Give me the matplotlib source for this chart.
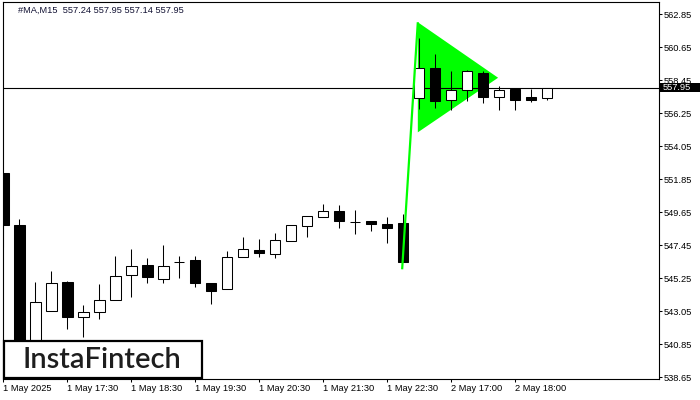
import matplotlib
matplotlib.use("Agg")
import matplotlib.pyplot as plt
from matplotlib.patches import Rectangle, Polygon

# ---- data ----
title_text = "#MA,M15  557.24 557.95 557.14 557.95"
opens = [552.27, 548.78, 540.50, 543.03, 544.98, 542.63, 542.96, 543.76, 545.43, 546.10,
         545.20, 546.32, 546.43, 544.90, 544.50, 546.67, 547.12, 546.87, 547.70, 548.70,
         549.30, 549.70, 549.00, 549.05, 548.85, 548.94, 557.23, 559.25, 557.10, 557.76,
         558.92, 557.34, 557.85, 557.30, 557.24]
highs = [552.27, 549.18, 545.00, 545.72, 545.05, 543.43, 544.85, 546.72, 547.18, 546.56,
         547.45, 546.72, 546.72, 544.90, 547.05, 548.00, 547.85, 548.25, 548.76, 549.36,
         550.18, 550.10, 549.78, 549.05, 549.34, 549.52, 561.23, 560.18, 559.05, 559.12,
         559.03, 558.05, 557.92, 557.83, 557.95]
lows = [547.34, 539.90, 539.80, 543.03, 541.83, 541.30, 542.54, 543.76, 544.00, 544.94,
        544.94, 545.27, 544.67, 543.54, 544.50, 546.67, 546.67, 546.60, 547.70, 548.00,
        549.30, 548.60, 548.20, 548.38, 547.60, 546.34, 556.52, 556.58, 556.43, 557.05,
        556.94, 556.47, 556.47, 557.00, 557.14]
closes = [548.78, 540.20, 543.63, 544.90, 542.63, 542.96, 543.78, 545.36, 546.03, 545.34,
          546.03, 546.32, 544.94, 544.40, 546.67, 547.16, 546.90, 547.78, 548.76, 549.36,
          549.70, 549.07, 548.97, 548.85, 548.60, 546.34, 559.27, 557.07, 557.76, 559.03,
          557.34, 557.76, 557.14, 557.14, 557.95]
xtick_pos = [0, 4, 8, 12, 16, 20, 24, 28, 32]
xtick_labels = ["1 May 2025", "1 May 17:30", "1 May 18:30", "1 May 19:30", "1 May 20:30",
                "1 May 21:30", "1 May 22:30", "2 May 17:00", "2 May 18:00"]
ytick_vals = [538.65, 540.85, 543.05, 545.25, 547.45, 549.65, 551.85, 554.05, 556.25,
              558.45, 560.65, 562.85]
pole_x = [24.94, 25.92]
pole_y = [545.83, 562.30]
pennant_x = [25.92, 25.92, 30.94]
pennant_y = [562.30, 554.96, 558.60]
logo_text = "InstaFintech"

# ---- figure ----
W, H = 700, 400
fig = plt.figure(figsize=(7, 4), dpi=100)
fig.patch.set_facecolor("white")
FONT = "Liberation Sans"
FS = 6.7

L, R, T, B = 3.0, 659.3, 1.7, 379.3
ax = fig.add_axes([L / W, 1 - B / H, (R - L) / W, (B - T) / H])
ax.set_facecolor("white")
ax.set_xlim(-0.019, 41.02)
ax.set_ylim(538.497, 563.67)

green = "#00ff00"
ax.add_patch(Polygon(list(zip(pennant_x, pennant_y)), closed=True, facecolor=green,
                     edgecolor="none", zorder=1))
ax.axhline(closes[-1], color="black", lw=0.8, zorder=2)

bw = 0.66
lw = 0.75
for i, (o, h, l, c) in enumerate(zip(opens, highs, lows, closes)):
    top = max(o, c)
    bot = min(o, c)
    ax.vlines(i, l, h, color="black", lw=lw, zorder=3)
    fc = "white" if c >= o else "black"
    ax.add_patch(Rectangle((i - bw / 2, bot), bw, top - bot, facecolor=fc,
                           edgecolor="black", lw=lw, zorder=4))

ax.plot(pole_x, pole_y, color=green, lw=1.6, zorder=5, solid_capstyle="butt")

for s in ax.spines.values():
    s.set_linewidth(0.8)
    s.set_color("black")

ax.yaxis.tick_right()
ax.set_yticks(ytick_vals)
ax.set_yticklabels([f"{v:.2f}" for v in ytick_vals], fontfamily=FONT, fontsize=FS)
ax.tick_params(axis="y", direction="out", length=1.8, width=0.75, pad=1.0, colors="black")
ax.set_xticks(xtick_pos)
ax.set_xticklabels(xtick_labels, fontfamily=FONT, fontsize=FS, ha="left")
ax.tick_params(axis="x", direction="out", length=2.2, width=0.75, pad=1.2, colors="black")

# title
fig.text(18.3 / W, 1 - 10.7 / H, title_text, fontfamily=FONT, fontsize=FS,
         color="#111133", ha="left", va="center")

# current price box
py = 87.5
fig.add_artist(Rectangle((659.3 / W, 1 - 92.3 / H), 41 / W, 9.6 / H,
                         transform=fig.transFigure, facecolor="black", edgecolor="none",
                         zorder=5))
fig.text(663.0 / W, 1 - py / H, f"{closes[-1]:.2f}", fontfamily=FONT, fontsize=FS,
         color="white", ha="left", va="center", zorder=6)

# logo
fig.add_artist(Rectangle((3.5 / W, 1 - 378.0 / H), 198 / W, 37 / H,
                         transform=fig.transFigure, facecolor="white",
                         edgecolor="black", lw=1.6))
fig.text(101.7 / W, 1 - 359.5 / H, logo_text, fontfamily="Lato", fontsize=21,
         fontweight="semibold", color="#1e1e1e", ha="center", va="center")

fig.savefig("out.png", dpi=100)
